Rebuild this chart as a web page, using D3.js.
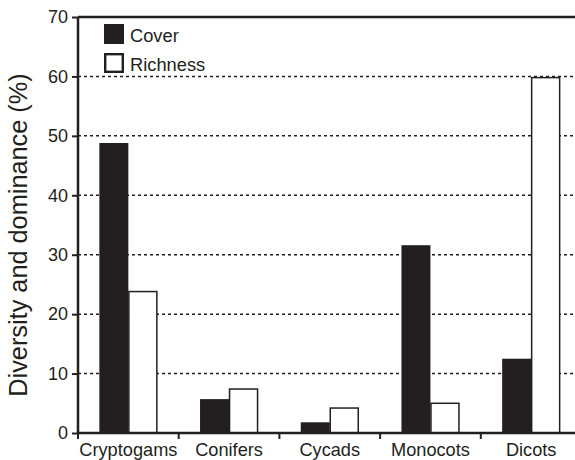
<!DOCTYPE html>
<html><head><meta charset="utf-8">
<script src="https://cdn.jsdelivr.net/npm/d3@7"></script>
<style>
html,body{margin:0;padding:0;background:#fff;}
svg{display:block;font-family:"Liberation Sans",Arial,Helvetica,sans-serif;}
</style></head>
<body>
<svg id="chart" width="575" height="460"></svg>
<script>
const categories = ["Cryptogams", "Conifers", "Cycads", "Monocots", "Dicots"];
const series = ["Cover", "Richness"];
const cover = [48.8, 5.7, 1.8, 31.6, 12.5];
const richness = [23.8, 7.4, 4.2, 5.0, 59.8];
const yTicks = [0, 10, 20, 30, 40, 50, 60, 70];
const gridTicks = [10, 20, 30, 40, 50, 60];
const yTitle = "Diversity and dominance (%)";

(function () {
const svg = d3.select("#chart");
const ink = "#231f20";
const mLeft = 78, mRight = 581.5, mTop = 17, mBottom = 433;

const x = d3.scaleBand().domain(categories).range([mLeft, mRight]).padding(0);
const bw = x.bandwidth();
const x1 = d3.scaleBand().domain(series).range([bw * 0.212, bw * 0.788]).padding(0);
const y = d3.scaleLinear().domain([0, 70]).range([mBottom, mTop]);

// gridlines
svg.append("g").selectAll("line").data(gridTicks).join("line")
  .attr("x1", mLeft).attr("x2", 575)
  .attr("y1", d => y(d)).attr("y2", d => y(d))
  .attr("stroke", ink).attr("stroke-width", 1.5).attr("stroke-dasharray", "3,3");

// bars
const data = categories.map((c, i) => ({c, vals: [{s: "Cover", v: cover[i]}, {s: "Richness", v: richness[i]}]}));
const groups = svg.append("g").selectAll("g").data(data).join("g")
  .attr("transform", d => `translate(${x(d.c)},0)`);
groups.selectAll("rect").data(d => d.vals).join("rect")
  .attr("x", d => x1(d.s) + (d.s === "Richness" ? 0.5 : 0))
  .attr("width", d => x1.bandwidth() - (d.s === "Richness" ? 1 : 0))
  .attr("y", d => y(d.v))
  .attr("height", d => y(0) - y(d.v))
  .attr("fill", d => d.s === "Cover" ? ink : "#fff")
  .attr("stroke", d => d.s === "Cover" ? "none" : ink)
  .attr("stroke-width", 1.5);

// top frame line
svg.append("line").attr("x1", mLeft).attr("x2", 575).attr("y1", y(70)).attr("y2", y(70))
  .attr("stroke", ink).attr("stroke-width", 2.5);

// y axis
const yAxis = svg.append("g").attr("transform", `translate(${mLeft},0)`)
  .call(d3.axisLeft(y).tickValues(yTicks).tickSize(6).tickPadding(4).tickFormat(d3.format("d")));
yAxis.select(".domain").attr("stroke", ink).attr("stroke-width", 2.5).attr("d", `M0,${y(70)}V${y(0)+1}`);
yAxis.selectAll(".tick line").attr("stroke", ink).attr("stroke-width", 2);
yAxis.selectAll(".tick text").attr("fill", ink).attr("font-size", 18)
  .attr("font-family", "Liberation Sans, Arial, sans-serif");

// x axis
const xAxis = svg.append("g").attr("transform", `translate(0,${mBottom})`)
  .call(d3.axisBottom(x).tickSize(0));
xAxis.select(".domain").attr("stroke", ink).attr("stroke-width", 2.5).attr("d", `M${mLeft-1},0H575`);
xAxis.selectAll(".tick text").attr("fill", ink).attr("font-size", 18.2)
  .attr("y", 22.5).attr("dy", 0)
  .attr("font-family", "Liberation Sans, Arial, sans-serif");
// separator ticks at band boundaries
const bounds = categories.map(c => x(c)).concat([x(categories[categories.length-1]) + bw]);
svg.append("g").selectAll("line").data(bounds).join("line")
  .attr("x1", d => d).attr("x2", d => d)
  .attr("y1", mBottom).attr("y2", mBottom + 6)
  .attr("stroke", ink).attr("stroke-width", 2);

// y title
svg.append("text")
  .attr("transform", `translate(27,235) rotate(-90)`)
  .attr("text-anchor", "middle").attr("font-size", 25.3).attr("fill", ink)
  .text(yTitle);

// legend
const legend = svg.append("g").selectAll("g").data(series).join("g")
  .attr("transform", (d, i) => `translate(104,${24 + i * 29})`);
legend.append("rect")
  .attr("x", d => d === "Cover" ? 0 : 1.2).attr("y", d => d === "Cover" ? 0 : 1.2)
  .attr("width", d => d === "Cover" ? 20 : 17.6).attr("height", d => d === "Cover" ? 20 : 17.6)
  .attr("fill", d => d === "Cover" ? ink : "#fff")
  .attr("stroke", ink).attr("stroke-width", d => d === "Cover" ? 0 : 2.4);
legend.append("text").attr("x", 26).attr("y", 17.5).attr("font-size", 18.3).attr("fill", ink).text(d => d);
})();
</script>
</body></html>
